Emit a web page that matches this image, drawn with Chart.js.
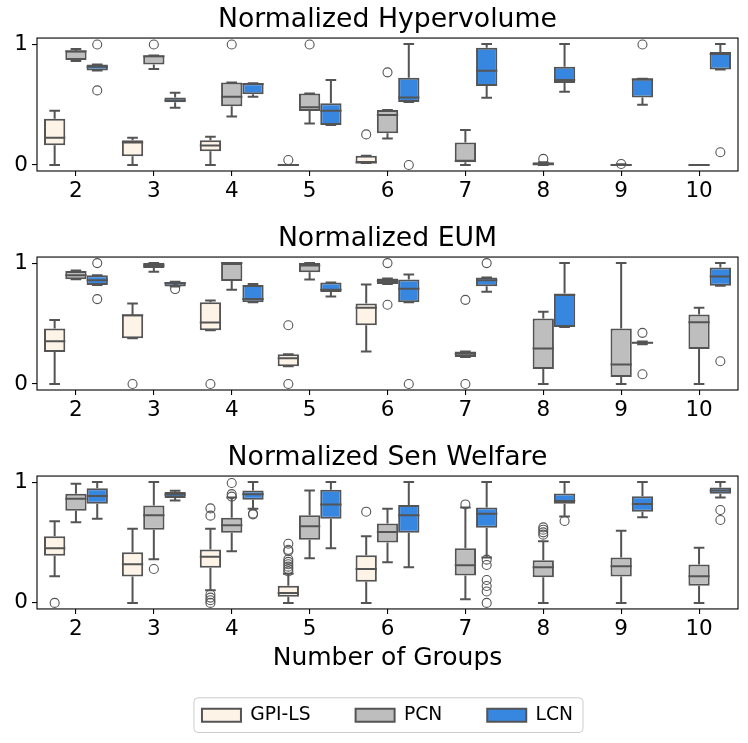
<!DOCTYPE html>
<html>
<head>
<meta charset="utf-8">
<script src="https://cdn.jsdelivr.net/npm/chart.js@4.4.1/dist/chart.umd.min.js"></script>
<style>
  body { margin: 0; background: #fff; }
  canvas { position: absolute; left: 0; }
</style>
</head>
<body>
<canvas id="hvChart" width="748" height="219" style="top:0"></canvas>
<canvas id="eumChart" width="748" height="219" style="top:219px"></canvas>
<canvas id="senChart" width="748" height="305" style="top:438px"></canvas>
<script>
// categories / hues
const groups = ['2', '3', '4', '5', '6', '7', '8', '9', '10'];
const methods = ['GPI-LS', 'PCN', 'LCN'];
const yTicks = [0, 1];

// box stats per group: [whisker low, q1, median, q3, whisker high], null = no data
const hvGpi = [[0, 0.163, 0.226, 0.383, 0.449], [0, 0.072, 0.185, 0.204, 0.226], [0, 0.113, 0.16, 0.204, 0.234],
  [0, 0, 0, 0, 0], [0.017, 0.017, 0.02, 0.077, 0.077], null, null, null, null];
const hvPcn = [[0.86, 0.868, 0.94, 0.945, 0.96], [0.793, 0.832, 0.9, 0.906, 0.906], [0.40, 0.485, 0.565, 0.683, 0.683],
  [0.342, 0.446, 0.477, 0.592, 0.592], [0.218, 0.262, 0.413, 0.455, 0.455], [0, 0.022, 0.035, 0.185, 0.289],
  [0, 0, 0.005, 0.022, 0.022], [0, 0, 0, 0.005, 0.005], [0, 0, 0, 0, 0]];
const hvLcn = [[0.782, 0.782, 0.813, 0.832, 0.832], [0.474, 0.518, 0.534, 0.559, 0.598], [0.565, 0.584, 0.67, 0.675, 0.675],
  [0.331, 0.331, 0.449, 0.51, 0.702], [0.52, 0.52, 0.559, 0.722, 1.0], [0.556, 0.653, 0.78, 0.97, 1.0],
  [0.606, 0.678, 0.702, 0.813, 1.0], [0.499, 0.559, 0.71, 0.713, 0.713], [0.79, 0.79, 0.917, 0.934, 1.0]];
const hvGpiOut = [[], [], [], [0.041], [0.253], [], [], [], []];
const hvPcnOut = [[], [0.997], [0.997], [0.997], [0.766], [], [0.05], [0.008], []];
const hvLcnOut = [[0.997, 0.617], [], [], [], [0], [], [], [0.997], [0.105]];

const eumGpi = [[0, 0.265, 0.354, 0.459, 0.53], [0.378, 0.378, 0.569, 0.575, 0.666], [0.445, 0.445, 0.508, 0.677, 0.69],
  [0.146, 0.146, 0.213, 0.246, 0.246], [0.268, 0.486, 0.63, 0.666, 0.823], null, null, null, null];
const eumPcn = [[0.867, 0.867, 0.90, 0.934, 0.939], [0.928, 0.959, 0.981, 1.0, 1.0], [0.779, 0.851, 1.0, 1.0, 1.0],
  [0.865, 0.925, 0.981, 1.0, 1.0], [0.826, 0.826, 0.851, 0.873, 0.873], [0.224, 0.224, 0.249, 0.268, 0.268],
  [0, 0.124, 0.293, 0.541, 0.597], [0, 0.058, 0.16, 0.459, 1.0], [0, 0.29, 0.511, 0.575, 0.63]];
const eumLcn = [[0.818, 0.818, 0.859, 0.9, 0.9], [0.807, 0.807, 0.834, 0.843, 0.845], [0.677, 0.677, 0.702, 0.818, 0.826],
  [0.724, 0.76, 0.78, 0.84, 0.84], [0.677, 0.677, 0.787, 0.865, 0.906], [0.762, 0.809, 0.859, 0.881, 0.881],
  [0.472, 0.472, 0.735, 0.749, 1.0], [0.329, 0.335, 0.34, 0.345, 0.351], [0.812, 0.812, 0.889, 0.964, 1.0]];
const eumGpiOut = [[], [0], [0], [0.486, 0], [], [], [], [], []];
const eumPcnOut = [[], [], [], [], [1.0, 0.655], [0.696, 0], [], [], []];
const eumLcnOut = [[1.0, 0.702], [0.785], [], [], [0], [1.0], [], [0.423, 0.08], [0.188]];

const senGpi = [[0.22, 0.391, 0.452, 0.551, 0.675], [0, 0.218, 0.32, 0.419, 0.614], [0.105, 0.292, 0.383, 0.441, 0.614],
  [0, 0.052, 0.083, 0.143, 0.242], [0, 0.176, 0.281, 0.394, 0.551], null, null, null, null];
const senPcn = [[0.667, 0.763, 0.862, 0.904, 0.986], [0.361, 0.606, 0.725, 0.807, 1.0], [0.427, 0.581, 0.642, 0.705, 0.873],
  [0.369, 0.523, 0.634, 0.725, 0.931], [0.336, 0.499, 0.587, 0.658, 0.78], [0.03, 0.226, 0.311, 0.452, 0.79],
  [0, 0.212, 0.295, 0.353, 0.51], [0, 0.218, 0.303, 0.375, 0.598], [0, 0.143, 0.22, 0.317, 0.457]];
const senLcn = [[0.697, 0.821, 0.884, 0.948, 1.0], [0.848, 0.868, 0.898, 0.917, 0.928], [0.78, 0.854, 0.9, 0.931, 1.0],
  [0.452, 0.697, 0.815, 0.937, 1.0], [0.295, 0.581, 0.725, 0.81, 1.0], [0.375, 0.623, 0.738, 0.79, 1.0],
  [0.716, 0.821, 0.843, 0.906, 1.0], [0.708, 0.755, 0.818, 0.882, 1.0], [0.873, 0.904, 0.931, 0.956, 1.0]];
const senGpiOut = [[0], [], [0.782, 0.722, 0.07, 0.044, 0.022, 0], [0.49, 0.44, 0.43, 0.36, 0.34, 0.32, 0.30, 0.28, 0.26], [0.755], [], [], [], []];
const senPcnOut = [[], [0.281], [0.88, 0.9, 0.992], [], [], [0.815], [0.565, 0.584, 0.606, 0.625], [], []];
const senLcnOut = [[], [], [0.733, 0.74], [], [], [0.358, 0.314, 0.19, 0.14, 0.094, 0], [0.678], [], [0.769, 0.686]];

const fills = ['#fdf3e7', '#bebebe', '#3787e0'];
const lineColor = '#545454';
const catPct = 0.82;

Chart.defaults.font.family = "'DejaVu Sans', sans-serif";
Chart.defaults.color = '#000';

// whiskers, caps, medians and fliers drawn around the floating bars
const boxPlugin = {
  id: 'boxWhiskers',
  afterDatasetsDraw(chart) {
    const ctx = chart.ctx;
    const y = chart.scales.y;
    ctx.save();
    ctx.strokeStyle = lineColor;
    chart.data.datasets.forEach((ds, i) => {
      if (!ds.stats) return;
      chart.getDatasetMeta(i).data.forEach((bar, j) => {
        const x = bar.x, w = bar.width;
        const s = ds.stats[j];
        if (s) {
          const [lo, q1, med, q3, hi] = s.map(v => y.getPixelForValue(v));
          ctx.lineWidth = 2;
          ctx.beginPath();
          ctx.moveTo(x, q1); ctx.lineTo(x, lo);
          ctx.moveTo(x, q3); ctx.lineTo(x, hi);
          ctx.moveTo(x - w / 4, lo); ctx.lineTo(x + w / 4, lo);
          ctx.moveTo(x - w / 4, hi); ctx.lineTo(x + w / 4, hi);
          ctx.moveTo(x - w / 2, med); ctx.lineTo(x + w / 2, med);
          if (q1 === q3) {
            ctx.moveTo(x - w / 2, q1); ctx.lineTo(x + w / 2, q1);
          }
          ctx.stroke();
        }
        ctx.lineWidth = 1.1;
        (ds.fliers[j] || []).forEach(v => {
          ctx.beginPath();
          ctx.arc(x, y.getPixelForValue(v), 4.5, 0, Math.PI * 2);
          ctx.stroke();
        });
      });
    });
    // axes frame
    const a = chart.chartArea;
    ctx.strokeStyle = '#000';
    ctx.lineWidth = 1.1;
    ctx.strokeRect(a.left, a.top, a.right - a.left, a.bottom - a.top);
    ctx.restore();
  },
  afterDraw(chart) {
    const lg = chart.legend;
    if (!chart.options.plugins.legend.display || !lg || !lg.legendHitBoxes.length) return;
    const hb = lg.legendHitBoxes;
    const left = Math.min(...hb.map(b => b.left)) - 8;
    const right = Math.max(...hb.map(b => b.left + b.width)) + 10;
    const top = Math.min(...hb.map(b => b.top)) - 8;
    const bottom = Math.max(...hb.map(b => b.top + b.height)) + 8;
    const ctx = chart.ctx;
    ctx.save();
    ctx.strokeStyle = '#cccccc';
    ctx.lineWidth = 1;
    ctx.beginPath();
    ctx.roundRect(left, top, right - left, bottom - top, 4);
    ctx.stroke();
    ctx.restore();
  }
};

function makePanel(id, title, stats, outs, isLast) {
  const boxes = methods.map((m, h) => ({
    label: m,
    data: stats[h].map(s => s ? [s[1], s[3]] : null),
    stats: stats[h],
    fliers: outs[h],
    backgroundColor: fills[h],
    borderColor: lineColor,
    borderWidth: 2,
    borderSkipped: false,
    categoryPercentage: catPct,
    barPercentage: 1
  }));
  const tickGrid = { display: true, drawOnChartArea: false, drawTicks: true, tickLength: 5, color: '#000', lineWidth: 1.1 };
  new Chart(document.getElementById(id), {
    type: 'bar',
    data: { labels: groups, datasets: boxes },
    options: {
      responsive: false,
      animation: false,
      events: [],
      layout: { padding: { right: 10, bottom: isLast ? 8.5 : 0 } },
      plugins: {
        title: { display: true, text: title, fullSize: false, font: { size: 26.7, weight: 'normal' }, padding: { top: 4, bottom: 2 } },
        legend: {
          display: isLast,
          position: 'bottom',
          fullSize: false,
          labels: { boxWidth: 39, boxHeight: 13, padding: 45, font: { size: 18.7 } }
        },
        tooltip: { enabled: false }
      },
      scales: {
        x: {
          offset: true,
          grid: Object.assign({ offset: false }, tickGrid),
          border: { display: false },
          ticks: { font: { size: 21.5 }, padding: 3, maxRotation: 0, autoSkip: false },
          title: isLast ? { display: true, text: 'Number of Groups', font: { size: 25 }, padding: { top: 0, bottom: -12.5 } } : { display: false },
          afterFit: s => { s.height = isLast ? 51.85 : 48; }
        },
        y: {
          min: -0.05, max: 1.05,
          afterBuildTicks: s => { s.ticks = yTicks.map(v => ({ value: v })); },
          grid: tickGrid,
          border: { display: false },
          ticks: { font: { size: 21.5 }, padding: 4, callback: v => String(v) },
          afterFit: s => { s.width = 37; }
        }
      }
    },
    plugins: [boxPlugin]
  });
}

makePanel('hvChart', 'Normalized Hypervolume', [hvGpi, hvPcn, hvLcn], [hvGpiOut, hvPcnOut, hvLcnOut], false);
makePanel('eumChart', 'Normalized EUM', [eumGpi, eumPcn, eumLcn], [eumGpiOut, eumPcnOut, eumLcnOut], false);
makePanel('senChart', 'Normalized Sen Welfare', [senGpi, senPcn, senLcn], [senGpiOut, senPcnOut, senLcnOut], true);
</script>
</body>
</html>
